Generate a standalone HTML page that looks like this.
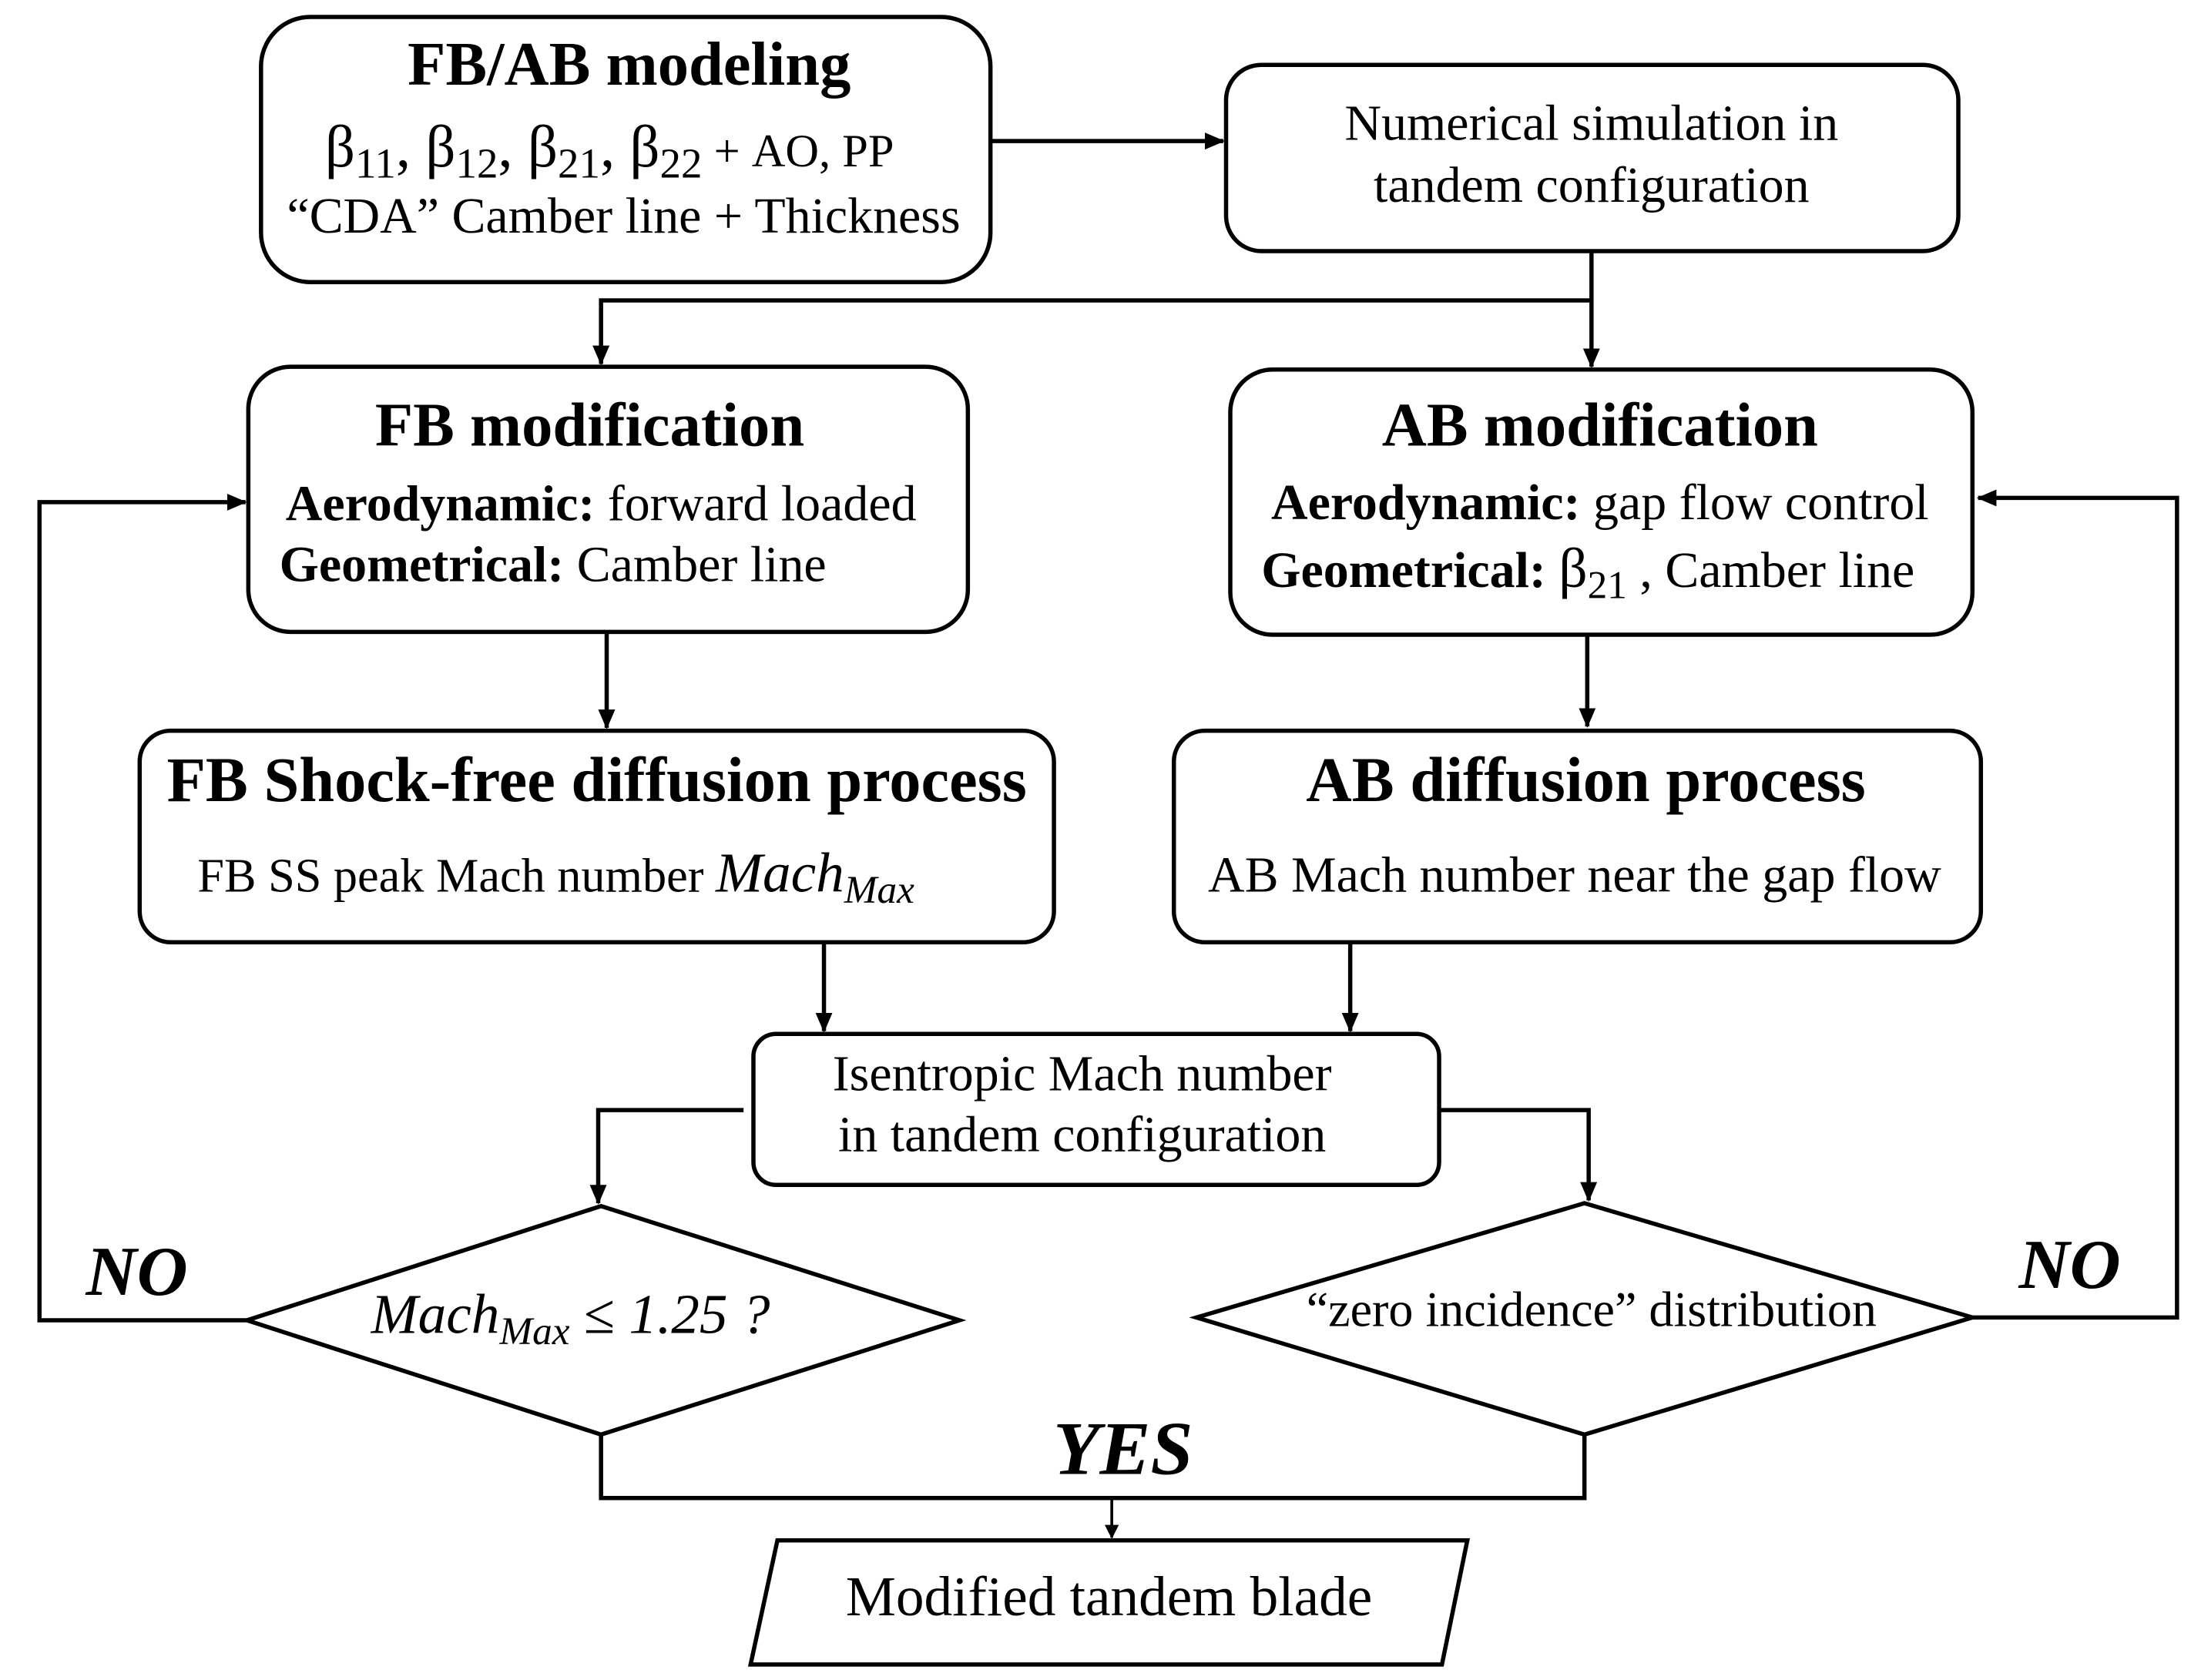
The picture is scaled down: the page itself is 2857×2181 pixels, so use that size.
<!DOCTYPE html>
<html><head><meta charset="utf-8"><style>html,body{margin:0;padding:0;background:#fff}svg{display:block}</style></head>
<body>
<svg width="2857" height="2181" viewBox="0 0 1560 1191" preserveAspectRatio="none" xmlns="http://www.w3.org/2000/svg" font-family="'Liberation Serif', serif">
<defs>
<marker id="a" markerWidth="10" markerHeight="10" refX="9" refY="5" orient="auto" markerUnits="userSpaceOnUse" viewBox="0 0 10 10"><path d="M0,0 L10,5 L0,10 z" fill="#000"/></marker>
<marker id="b" markerWidth="14" markerHeight="14" refX="13" refY="7" orient="auto" markerUnits="userSpaceOnUse" viewBox="0 0 14 14"><path d="M0,1 L14,7 L0,13 z" fill="#000"/></marker></defs>
<g fill="none" stroke="#000" stroke-width="3">
<rect x="185" y="12" width="517" height="188" rx="35"/>
<rect x="869" y="46" width="519" height="132" rx="25"/>
<rect x="176" y="260" width="510" height="188" rx="30"/>
<rect x="872" y="262" width="526" height="188" rx="30"/>
<rect x="99" y="518" width="648" height="150" rx="22"/>
<rect x="832" y="518" width="572" height="150" rx="22"/>
<rect x="534" y="733" width="486" height="107" rx="16"/>
<polygon points="426,855 680,936 426,1017 175,936"/>
<polygon points="1123,853 1398,934 1123,1017 848,934"/>
<polygon points="551,1092 1040,1092 1022,1180 532,1180"/>
<path d="M702,100 H867" marker-end="url(#b)"/>
<path d="M1128,178 V260" marker-end="url(#b)"/>
<path d="M1128,213 H426 V258" marker-end="url(#b)"/>
<path d="M430,448 V516" marker-end="url(#b)"/>
<path d="M1125,450 V515" marker-end="url(#b)"/>
<path d="M584,668 V731" marker-end="url(#b)"/>
<path d="M957,668 V731" marker-end="url(#b)"/>
<path d="M527,787 H424 V853" marker-end="url(#b)"/>
<path d="M1020,787 H1126 V851" marker-end="url(#b)"/>
<path d="M175,936 H28 V356 H174" marker-end="url(#b)"/>
<path d="M1398,934 H1543 V353 H1402" marker-end="url(#b)"/>
<path d="M426,1017 V1062 H1123 V1017"/>
<path d="M788,1062 V1090" stroke-width="2" marker-end="url(#a)"/>
</g>
<g fill="#000" text-anchor="middle">
<text x="446" y="60" font-size="44" font-weight="bold">FB/AB modeling</text>
<text x="432" y="118" font-size="42">β<tspan font-size="30" dy="8">11</tspan><tspan dy="-8">, β</tspan><tspan font-size="30" dy="8">12</tspan><tspan dy="-8">, β</tspan><tspan font-size="30" dy="8">21</tspan><tspan dy="-8">, β</tspan><tspan font-size="30" dy="8">22</tspan><tspan dy="-8" font-size="33"> + AO, PP</tspan></text>
<text x="442" y="165" font-size="36">“CDA” Camber line + Thickness</text>
<text x="1128" y="99" font-size="36">Numerical simulation in</text>
<text x="1128" y="143" font-size="36">tandem configuration</text>
<text x="418" y="316" font-size="44" font-weight="bold">FB modification</text>
<text x="426" y="369" font-size="36"><tspan font-weight="bold">Aerodynamic:</tspan> forward loaded</text>
<text text-anchor="start" x="198" y="412" font-size="36"><tspan font-weight="bold">Geometrical:</tspan> Camber line</text>
<text x="1134" y="316" font-size="44" font-weight="bold">AB modification</text>
<text x="1134" y="368" font-size="36"><tspan font-weight="bold">Aerodynamic:</tspan> gap flow control</text>
<text text-anchor="start" x="894" y="416" font-size="36"><tspan font-weight="bold">Geometrical: </tspan><tspan font-size="40">β</tspan><tspan font-size="28" dy="8">21</tspan><tspan dy="-8">  , Camber line</tspan></text>
<text x="423" y="568" font-size="45" font-weight="bold">FB Shock-free diffusion process</text>
<text text-anchor="start" x="140" y="632" font-size="34">FB SS peak Mach number    <tspan font-style="italic" font-size="40">Mach</tspan><tspan font-style="italic" font-size="28" dy="8">Max</tspan></text>
<text x="1124" y="568" font-size="45" font-weight="bold">AB diffusion process</text>
<text x="1116" y="632" font-size="36">AB Mach number near the gap flow</text>
<text x="767" y="773" font-size="36">Isentropic Mach number</text>
<text x="767" y="816" font-size="36">in tandem configuration</text>
<text text-anchor="start" x="263" y="945" font-size="40" font-style="italic">Mach<tspan font-size="28" dy="8">Max</tspan><tspan dy="-8" font-style="normal"> ≤ </tspan>1.25 ?</text>
<text x="1128" y="940" font-size="35">“zero incidence” distribution</text>
<text x="786" y="1145" font-size="40">Modified tandem blade</text>
<text x="97" y="918" font-size="50" font-weight="bold" font-style="italic">NO</text>
<text x="1467" y="913" font-size="50" font-weight="bold" font-style="italic">NO</text>
<text x="796" y="1045" font-size="54" font-weight="bold" font-style="italic">YES</text>
</g>
</svg>
</body></html>
